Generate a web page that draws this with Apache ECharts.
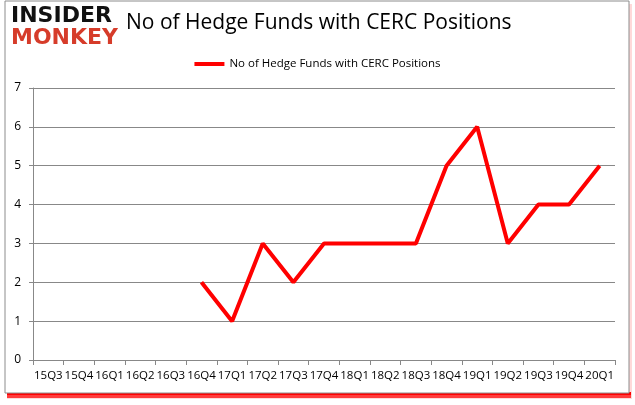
<!DOCTYPE html>
<html><head><meta charset="utf-8">
<script src="https://cdn.jsdelivr.net/npm/echarts@6/dist/echarts.min.js"></script>
<style>html,body{margin:0;padding:0;background:#fff}#c{width:635px;height:405px}</style>
</head><body><div id="c"></div>
<script>
const categories = ['15Q3','15Q4','16Q1','16Q2','16Q3','16Q4','17Q1','17Q2','17Q3','17Q4','18Q1','18Q2','18Q3','18Q4','19Q1','19Q2','19Q3','19Q4','20Q1'];
const values = [null,null,null,null,null,2,1,3,2,3,3,3,3,5,6,3,4,4,5];
const seriesName = 'No of Hedge Funds with CERC Positions';
const titleText = 'No of Hedge Funds with CERC Positions';

const chart = echarts.init(document.getElementById('c'), null, {renderer:'canvas'});
chart.setOption({
  animation:false,
  backgroundColor:'#fff',
  graphic:[
    {type:'rect', z:-10, shape:{x:7,y:4,width:625,height:395}, style:{fill:'#ff0000', opacity:0.15}},
    {type:'rect', z:-9, shape:{x:7,y:392,width:624,height:6}, style:{fill:'#ff2020', opacity:0.85}},
    {type:'rect', z:-9, shape:{x:7,y:392,width:624,height:3}, style:{fill:'#ff0000'}},
    {type:'rect', z:-8, shape:{x:5,y:1,width:624,height:392}, style:{fill:'#fff', stroke:'#8c8c8c', lineWidth:1}},
    {type:'text', z:5, left:11, top:5, style:{text:'INSIDER', font:'900 22px "DejaVu Sans"', fill:'#111'}},
    {type:'text', z:5, left:11, top:27, style:{text:'MONKEY', font:'900 22px "DejaVu Sans"', fill:'#d63c2a'}}
  ],
  title:{text:titleText, left:121, top:8, textStyle:{fontFamily:'Open Sans', fontSize:21, fontWeight:'normal', color:'#000'}},
  legend:{top:53, left:'center', itemWidth:30, itemHeight:4, icon:'rect', textStyle:{fontFamily:'Open Sans', fontSize:11.5, color:'#000'}, data:[seriesName]},
  grid:{left:33, right:20, top:88, bottom:45, containLabel:false},
  xAxis:{type:'category', data:categories, boundaryGap:true, z:10,
    axisLine:{lineStyle:{color:'#888'}}, axisTick:{show:true, alignWithLabel:false, length:5, lineStyle:{color:'#888'}},
    axisLabel:{interval:0, fontFamily:'Open Sans', fontSize:11.5, color:'#000', margin:10}, splitLine:{show:false}},
  yAxis:{type:'value', min:0, max:7, interval:1, z:10,
    axisLine:{show:true, lineStyle:{color:'#888'}}, axisTick:{show:true, length:4, lineStyle:{color:'#888'}},
    axisLabel:{fontFamily:'Open Sans', fontSize:12, color:'#000', margin:12},
    splitLine:{show:true, lineStyle:{color:'#888', width:1}}},
  series:[{name:seriesName, type:'line', data:values, connectNulls:false, symbol:'none',
    lineStyle:{color:'#ff0000', width:4}, itemStyle:{color:'#ff0000'}, z:20}]
});
</script></body></html>
